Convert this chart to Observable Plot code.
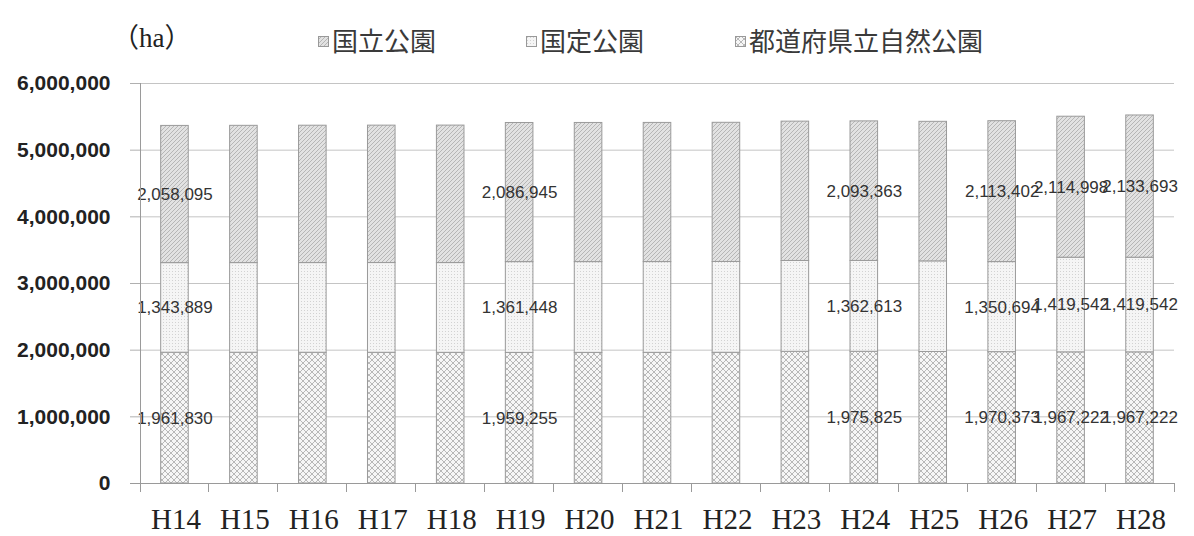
<!DOCTYPE html>
<html><head><meta charset="utf-8">
<script src="https://cdn.jsdelivr.net/npm/d3@7"></script>
<script src="https://cdn.jsdelivr.net/npm/@observablehq/plot@0.6"></script>
<style>
body{margin:0;background:#fff;}
#wrap{position:relative;width:1194px;height:536px;overflow:hidden;}
#chart{position:absolute;left:0;top:0;}
.lg{position:absolute;top:26px;height:28px;line-height:28px;font-family:"Noto Sans CJK JP";font-size:26px;color:#3a3a3a;white-space:nowrap;}
.lg svg{vertical-align:middle;margin-right:3px;position:relative;top:-2px;}
</style></head>
<body>
<svg width="0" height="0" style="position:absolute">
<defs>
<pattern id="pNat" width="4" height="4" patternUnits="userSpaceOnUse">
 <rect width="4" height="4" fill="#e2e2e2"/>
 <path d="M-1,1 l2,-2 M0,4 l4,-4 M3,5 l2,-2" stroke="#b6b6b6" stroke-width="1"/>
</pattern>
<pattern id="pQuasi" width="3" height="3" patternUnits="userSpaceOnUse">
 <rect width="3" height="3" fill="#f5f5f5"/>
 <rect x="1" y="1" width="1" height="1" fill="#d2d2d2"/>
</pattern>
<pattern id="pPref" width="6" height="6" patternUnits="userSpaceOnUse">
 <rect width="6" height="6" fill="#f6f6f6"/>
 <path d="M0,0 L6,6 M6,0 L0,6" stroke="#b8b8b8" stroke-width="1"/>
</pattern>
</defs></svg>
<div id="wrap">
 <div id="chart"></div>
 <div class="lg" style="left:112px;top:24px;font-family:'Liberation Serif','Noto Sans CJK JP';font-size:27px;color:#222;">（ha）</div>
 <div class="lg" id="lg0" style="left:318px;"></div>
 <div class="lg" id="lg1" style="left:526px;"></div>
 <div class="lg" id="lg2" style="left:735px;"></div>
</div>
<script>
const years = ["H14","H15","H16","H17","H18","H19","H20","H21","H22","H23","H24","H25","H26","H27","H28"];
const series = ["都道府県立自然公園","国定公園","国立公園"];
const prefectural   = [1961830,1961600,1961200,1960800,1960100,1959255,1959500,1960000,1961000,1975500,1975825,1973000,1970373,1967222,1967222];
const quasiNational = [1343889,1344500,1345200,1346000,1346500,1361448,1361448,1361500,1362000,1362613,1362613,1359000,1350694,1419542,1419542];
const national      = [2058095,2059000,2060500,2061200,2062000,2086945,2087100,2087300,2087500,2090000,2093363,2093363,2113402,2114998,2133693];
const labeledYears = ["H14","H19","H24","H26","H27","H28"];
const yTicks = [0,1000000,2000000,3000000,4000000,5000000,6000000];
const legendOrder = ["国立公園","国定公園","都道府県立自然公園"];
const patternOf = {"都道府県立自然公園":"url(#pPref)","国定公園":"url(#pQuasi)","国立公園":"url(#pNat)"};

const rows = years.flatMap((yr,i)=>[
  {year:yr, series:series[0], value:prefectural[i]},
  {year:yr, series:series[1], value:quasiNational[i]},
  {year:yr, series:series[2], value:national[i]}
]);
const fmt = d3.format(",");

function boundaryTicks(index, scales, values, dim) {
  const {width, marginLeft, marginRight} = dim;
  const n = years.length;
  const step = (width - marginLeft - marginRight) / n;
  const y0 = scales.y(0), yTop = scales.y(6000000);
  const g = d3.create("svg:g").attr("stroke","#9a9a9a").attr("stroke-width",1).attr("shape-rendering","crispEdges");
  g.append("line").attr("x1",marginLeft).attr("x2",marginLeft).attr("y1",yTop).attr("y2",y0);
  g.append("line").attr("x1",marginLeft-10).attr("x2",width-marginRight).attr("y1",y0).attr("y2",y0);
  for (let i=0;i<=n;i++){
    const x = marginLeft + i*step;
    g.append("line").attr("x1",x).attr("x2",x).attr("y1",y0).attr("y2",y0+9);
  }
  return g.node();
}

const chart = Plot.plot({
  width:1194, height:536,
  marginTop:83, marginBottom:53, marginLeft:140, marginRight:20,
  style:{background:"transparent", fontFamily:"Liberation Sans"},
  x:{domain:years, paddingInner:0.6, paddingOuter:0.3, round:false, axis:null},
  y:{domain:[0,6000000], axis:null},
  color:{domain:series, range:series.map(s=>patternOf[s])},
  marks:[
    Plot.gridY(yTicks, {stroke:"#c4c4c4", strokeOpacity:1}),
    Plot.axisY({ticks:yTicks, tickFormat:fmt, tickSize:10, tickPadding:20, stroke:"#b0b0b0", fontSize:21, fontWeight:"bold", fill:"#222", label:null}),
    Plot.barY(rows, {x:"year", y:"value", fill:"series", stroke:"#9a9a9a", strokeWidth:1}),
    Plot.text(rows.filter(d=>labeledYears.includes(d.year)),
      Plot.stackY({x:"year", y:"value", text:d=>fmt(d.value), fontSize:17, fill:"#333", letterSpacing:-0.3})),
    Plot.axisX({tickSize:0, tickPadding:25, fontSize:29, fontFamily:"Liberation Serif", fill:"#222", label:null, letterSpacing:2, dx:1}),
    boundaryTicks
  ]
});
document.getElementById("chart").appendChild(chart);

legendOrder.forEach((s,i)=>{
  const el = document.getElementById("lg"+i);
  el.innerHTML = '<svg width="11" height="11"><rect x="0.5" y="0.5" width="10" height="10" fill="'+patternOf[s]+'" stroke="#999"/></svg>';
  el.appendChild(document.createTextNode(s));
});
</script>
</body></html>
